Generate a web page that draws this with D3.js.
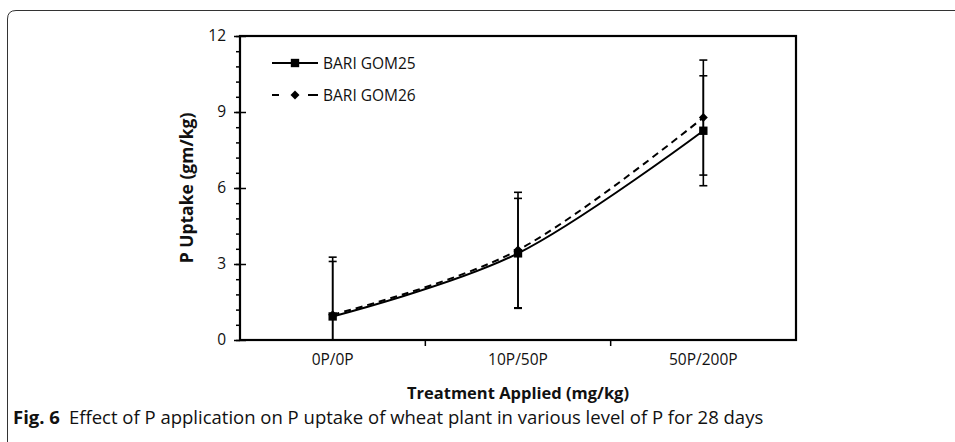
<!DOCTYPE html>
<html>
<head>
<meta charset="utf-8">
<script src="https://cdn.jsdelivr.net/npm/d3@7"></script>
<style>
  body { margin: 0; background: #fff; }
  svg { display: block; }
  text { font-family: "Open Sans", "Noto Sans", sans-serif; fill: #111; }
</style>
</head>
<body>
<div id="chart"></div>
<script>
// data
var treatments = ["0P/0P", "10P/50P", "50P/200P"];
var gom25 = [0.93, 3.42, 8.26];
var gom25Err = [2.17, 2.17, 2.17];
var gom26 = [1.0, 3.55, 8.78];
var gom26Err = [2.27, 2.28, 2.27];
var yTicks = [0, 3, 6, 9, 12];
var seriesNames = ["BARI GOM25", "BARI GOM26"];

var W = 955, H = 442;
var margin = {left: 240, top: 36, right: 159, bottom: 102};
var pw = W - margin.left - margin.right, ph = H - margin.top - margin.bottom;

var svg = d3.select("#chart").append("svg").attr("width", W).attr("height", H);

// outer figure frame
svg.append("path")
    .attr("d", "M7.5," + H + " V19 Q7.5,10.5 16,10.5 H" + W)
    .attr("fill", "none").attr("stroke", "#333").attr("stroke-width", 1);

var g = svg.append("g").attr("transform", "translate(" + margin.left + "," + margin.top + ")");

var x = d3.scaleBand().domain(treatments).range([0, pw]);
var y = d3.scaleLinear().domain([0, 12]).range([ph, 0]);
var cx = function(d){ return x(d) + x.bandwidth() / 2; };

g.append("clipPath").attr("id", "clip")
  .append("rect").attr("x", 0).attr("y", 0).attr("width", pw).attr("height", ph);

// minor ticks on y
g.append("g")
    .call(d3.axisLeft(y).tickValues(d3.range(0, 12.01, 0.6)).tickSize(4).tickFormat(""))
    .call(function(a){ a.select(".domain").remove(); a.selectAll("line").attr("stroke-width", 1.5); });

// y axis
g.append("g")
    .call(d3.axisLeft(y).tickValues(yTicks).tickSize(6).tickPadding(8))
    .call(function(a){
        a.select(".domain").remove();
        a.selectAll("line").attr("x2", 6).attr("x1", -6).attr("stroke-width", 1.5);
        a.selectAll("text").style("font-size", "15.5px").attr("fill", "#111");
    });

// x axis ticks between categories
g.append("g").attr("transform", "translate(0," + ph + ")")
    .call(d3.axisBottom(x).tickSize(0).tickPadding(14))
    .call(function(a){
        a.select(".domain").remove();
        a.selectAll("text").style("font-size", "15.5px").attr("fill", "#111");
    });
g.selectAll(".xsep").data(treatments.slice(1)).enter().append("line")
    .attr("x1", function(d){ return x(d); }).attr("x2", function(d){ return x(d); })
    .attr("y1", ph).attr("y2", ph + 6)
    .attr("stroke", "#000").attr("stroke-width", 1.5);

// plot frame
g.append("rect").attr("width", pw).attr("height", ph)
    .attr("fill", "none").attr("stroke", "#000").attr("stroke-width", 2.2);

var series = [
  {name: seriesNames[0], vals: gom25, err: gom25Err, dash: null, legDash: null, size: 70, rot: 0},
  {name: seriesNames[1], vals: gom26, err: gom26Err, dash: "7,5", legDash: "7,29,10", size: 40, rot: 45}
];

var line = d3.line().curve(d3.curveCatmullRom.alpha(0))
    .x(function(d){ return cx(d.t); }).y(function(d){ return y(d.v); });

var plot = g.append("g").attr("clip-path", "url(#clip)");

series.forEach(function(s){
    var pts = treatments.map(function(t, i){ return {t: t, v: s.vals[i], e: s.err[i]}; });
    // error bars
    pts.forEach(function(p){
        plot.append("line")
            .attr("x1", cx(p.t)).attr("x2", cx(p.t))
            .attr("y1", y(p.v + p.e)).attr("y2", y(p.v - p.e))
            .attr("stroke", "#000").attr("stroke-width", 1.6);
        [p.v + p.e, p.v - p.e].forEach(function(v){
            plot.append("line")
                .attr("x1", cx(p.t) - 4).attr("x2", cx(p.t) + 4)
                .attr("y1", y(v)).attr("y2", y(v))
                .attr("stroke", "#000").attr("stroke-width", 1.6);
        });
    });
    plot.append("path").datum(pts).attr("d", line)
        .attr("fill", "none").attr("stroke", "#000").attr("stroke-width", 2)
        .attr("stroke-dasharray", s.dash);
    plot.selectAll(null).data(pts).enter().append("path")
        .attr("d", d3.symbol().type(d3.symbolSquare).size(s.size))
        .attr("transform", function(p){ return "translate(" + cx(p.t) + "," + y(p.v) + ") rotate(" + s.rot + ")"; })
        .attr("fill", "#000");
});

// legend
var leg = g.append("g").attr("transform", "translate(32,27)");
series.forEach(function(s, i){
    var r = leg.append("g").attr("transform", "translate(0," + (i * 32) + ")");
    r.append("line").attr("x1", 0).attr("x2", 46).attr("y1", 0).attr("y2", 0)
        .attr("stroke", "#000").attr("stroke-width", 2)
        .attr("stroke-dasharray", s.legDash);
    r.append("path").attr("d", d3.symbol().type(d3.symbolSquare).size(s.size))
        .attr("transform", "translate(23,0) rotate(" + s.rot + ")").attr("fill", "#000");
    r.append("text").attr("x", 51).attr("y", 5.5).style("font-size", "15.5px").text(s.name);
});

// axis titles
svg.append("text")
    .attr("transform", "translate(193," + (margin.top + ph / 2) + ") rotate(-90)")
    .attr("text-anchor", "middle").style("font-size", "17.5px").style("font-weight", "bold")
    .text("P Uptake (gm/kg)");
svg.append("text")
    .attr("x", margin.left + pw / 2).attr("y", 399)
    .attr("text-anchor", "middle").style("font-size", "16.5px").style("font-weight", "bold")
    .text("Treatment Applied (mg/kg)");

// caption
var cap = svg.append("text").attr("x", 13).attr("y", 424).style("font-size", "18.5px");
cap.append("tspan").style("font-weight", "bold").text("Fig. 6");
cap.append("tspan").attr("dx", 9).text("Effect of P application on P uptake of wheat plant in various level of P for 28 days");
</script>
</body>
</html>
